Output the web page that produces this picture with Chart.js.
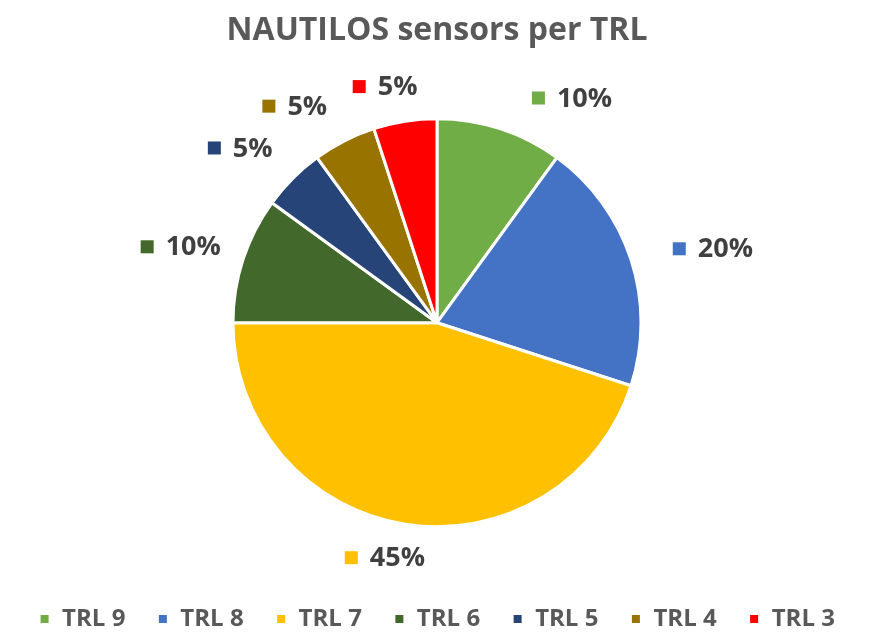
<!DOCTYPE html>
<html>
<head>
<meta charset="utf-8">
<script src="https://cdn.jsdelivr.net/npm/chart.js@4.4.1/dist/chart.umd.min.js"></script>
<style>
    html, body { margin: 0; padding: 0; background: #ffffff; }
    #chartWrap { width: 879px; height: 633px; }
</style>
</head>
<body>
<div id="chartWrap"><canvas id="chartArea"></canvas></div>
<script>
// chart data
var trlLabels = ['TRL 9', 'TRL 8', 'TRL 7', 'TRL 6', 'TRL 5', 'TRL 4', 'TRL 3'];
var trlShare = [10, 20, 45, 10, 5, 5, 5];
var trlColors = ['#70AD47', '#4472C4', '#FFC000', '#43682B', '#264478', '#997300', '#FF0000'];

// where each label sits: angle (deg, 0 = right) and distance as a factor of the radius
var labelPlace = [[-59, 1.285], [-15, 1.40], [102.5, 1.18], [196.5, 1.31], [221.6, 1.29], [236.7, 1.27], [257.6, 1.185]];

var outsideLabels = {
    id: 'outsideLabels',
    afterDatasetsDraw: function (chart) {
        var c = chart.ctx;
        var meta = chart.getDatasetMeta(0);
        var data = chart.data.datasets[0].data;
        var total = data.reduce(function (a, b) { return a + b; }, 0);
        c.save();
        c.font = 'bold 27px "Open Sans"';
        c.textBaseline = 'middle';
        c.textAlign = 'left';
        meta.data.forEach(function (arc, i) {
            var txt = Math.round(data[i] / total * 100) + '%';
            var tw = c.measureText(txt).width;
            var sq = 13, gap = 12;
            var w = sq + gap + tw;
            var a = labelPlace[i][0] * Math.PI / 180;
            var d = arc.outerRadius * labelPlace[i][1];
            var cx = arc.x + Math.cos(a) * d;
            var cy = arc.y + Math.sin(a) * d;
            var x0 = cx - w / 2;
            c.fillStyle = trlColors[i];
            c.fillRect(x0, cy - sq / 2, sq, sq);
            c.fillStyle = '#404040';
            c.fillText(txt, x0 + sq + gap, cy + 1);
        });
        c.restore();
    }
};

var ctx = document.getElementById('chartArea').getContext('2d');
var myNewChart = new Chart(ctx, {
    type: 'pie',
    data: {
        labels: trlLabels,
        datasets: [{
            data: trlShare,
            backgroundColor: trlColors,
            borderColor: '#ffffff',
            borderWidth: 3
        }]
    },
    options: {
        responsive: true,
        maintainAspectRatio: false,
        animation: false,
        radius: 204,
        layout: { padding: { right: 5, bottom: -8 } },
        plugins: {
            title: {
                display: true,
                text: 'NAUTILOS sensors per TRL',
                color: '#595959',
                font: { family: '"Open Sans"', size: 32, weight: 'bold' },
                padding: { top: 12, bottom: 20 }
            },
            legend: {
                display: true,
                position: 'bottom',
                labels: {
                    color: '#595959',
                    font: { family: '"Open Sans"', size: 24, weight: 'bold' },
                    boxWidth: 11,
                    boxHeight: 11,
                    padding: 32
                }
            },
            tooltip: { enabled: false }
        }
    },
    plugins: [outsideLabels]
});
</script>
</body>
</html>
